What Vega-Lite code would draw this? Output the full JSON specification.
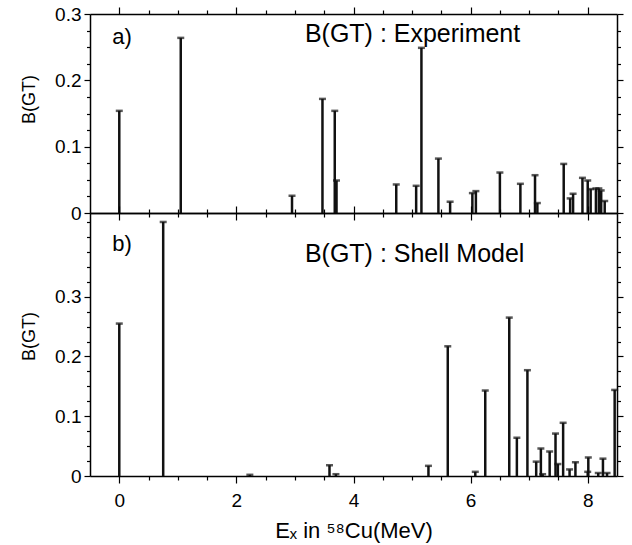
{
  "$schema": "https://vega.github.io/schema/vega-lite/v6.json",
  "padding": {"left": 20, "top": 5, "right": 5, "bottom": 5},
  "background": "white",
  "config": {
    "view": {"stroke": null},
    "axis": {
      "grid": false,
      "domainColor": "#000",
      "domainWidth": 1.5,
      "tickColor": "#000",
      "tickWidth": 1.2,
      "labelFont": "Liberation Sans",
      "labelFontSize": 19,
      "labelColor": "#000",
      "labelPadding": 3,
      "titleFont": "Liberation Sans",
      "titleFontWeight": "normal",
      "titleColor": "#000"
    }
  },
  "datasets": {
    "exp": [
      {"E": 0.00, "B": 0.154},
      {"E": 1.05, "B": 0.264},
      {"E": 2.95, "B": 0.026},
      {"E": 3.47, "B": 0.172},
      {"E": 3.68, "B": 0.154},
      {"E": 3.71, "B": 0.049},
      {"E": 4.73, "B": 0.043},
      {"E": 5.07, "B": 0.041},
      {"E": 5.16, "B": 0.249},
      {"E": 5.45, "B": 0.082},
      {"E": 5.65, "B": 0.017},
      {"E": 6.03, "B": 0.030},
      {"E": 6.09, "B": 0.033},
      {"E": 6.50, "B": 0.061},
      {"E": 6.85, "B": 0.044},
      {"E": 7.10, "B": 0.057},
      {"E": 7.14, "B": 0.015},
      {"E": 7.59, "B": 0.074},
      {"E": 7.70, "B": 0.022},
      {"E": 7.75, "B": 0.029},
      {"E": 7.91, "B": 0.053},
      {"E": 8.00, "B": 0.049},
      {"E": 8.05, "B": 0.036},
      {"E": 8.14, "B": 0.037},
      {"E": 8.19, "B": 0.037},
      {"E": 8.23, "B": 0.034},
      {"E": 8.29, "B": 0.018}
    ],
    "sm": [
      {"E": 0.00, "B": 0.255},
      {"E": 0.75, "B": 0.425},
      {"E": 2.23, "B": 0.002},
      {"E": 3.59, "B": 0.018},
      {"E": 3.70, "B": 0.003},
      {"E": 5.28, "B": 0.017},
      {"E": 5.61, "B": 0.217},
      {"E": 6.08, "B": 0.007},
      {"E": 6.25, "B": 0.143},
      {"E": 6.66, "B": 0.265},
      {"E": 6.79, "B": 0.064},
      {"E": 6.97, "B": 0.177},
      {"E": 7.12, "B": 0.024},
      {"E": 7.20, "B": 0.046},
      {"E": 7.23, "B": 0.003},
      {"E": 7.35, "B": 0.041},
      {"E": 7.45, "B": 0.071},
      {"E": 7.49, "B": 0.020},
      {"E": 7.58, "B": 0.089},
      {"E": 7.69, "B": 0.011},
      {"E": 7.79, "B": 0.023},
      {"E": 8.00, "B": 0.007},
      {"E": 8.01, "B": 0.031},
      {"E": 8.18, "B": 0.005},
      {"E": 8.26, "B": 0.029},
      {"E": 8.33, "B": 0.005},
      {"E": 8.46, "B": 0.144}
    ]
  },
  "spacing": 0,
  "bounds": "flush",
  "vconcat": [
    {
      "width": 527,
      "height": 199,
      "data": {"name": "exp"},
      "resolve": {"axis": {"x": "independent", "y": "independent"}},
      "layer": [
        {
          "mark": {"type": "rule", "color": "#111", "strokeWidth": 2.5},
          "encoding": {
            "x": {"field": "E", "type": "quantitative", "scale": {"domain": [-0.5, 8.5], "nice": false, "zero": false},
                  "axis": {"orient": "bottom", "values": [0, 2, 4, 6, 8], "labels": false, "tickSize": 7, "title": null}},
            "y": {"field": "B", "type": "quantitative", "scale": {"domain": [0, 0.3], "nice": false},
                  "axis": {"orient": "left", "values": [0, 0.1, 0.2, 0.3], "format": "~g", "tickSize": 6, "title": "B(GT)",
                           "titleFontSize": 18, "titlePadding": 16, "titleY": 85}},
            "y2": {"datum": 0}
          }
        },
        {
          "mark": {"type": "tick", "orient": "horizontal", "size": 7, "thickness": 2.5, "color": "#111"},
          "encoding": {
            "x": {"field": "E", "type": "quantitative", "scale": {"domain": [-0.5, 8.5], "nice": false, "zero": false},
                  "axis": {"orient": "bottom", "values": [0.5, 1, 1.5, 2.5, 3, 3.5, 4.5, 5, 5.5, 6.5, 7, 7.5], "labels": false, "domain": false, "tickSize": 4, "title": null}},
            "y": {"field": "B", "type": "quantitative", "scale": {"domain": [0, 0.3], "nice": false},
                  "axis": {"orient": "left", "values": [0.025, 0.05, 0.075, 0.125, 0.15, 0.175, 0.225, 0.25, 0.275], "labels": false, "domain": false, "tickSize": 3.5, "title": null}}
          }
        },
        {
          "mark": {"type": "point", "opacity": 0},
          "encoding": {
            "x": {"field": "E", "type": "quantitative", "scale": {"domain": [-0.5, 8.5], "nice": false, "zero": false},
                  "axis": {"orient": "top", "values": [0, 2, 4, 6, 8], "labels": false, "tickSize": 7, "title": null}},
            "y": {"field": "B", "type": "quantitative", "scale": {"domain": [0, 0.3], "nice": false},
                  "axis": {"orient": "right", "values": [0, 0.1, 0.2, 0.3], "labels": false, "tickSize": 6, "title": null}}
          }
        },
        {
          "mark": {"type": "point", "opacity": 0},
          "encoding": {
            "x": {"field": "E", "type": "quantitative", "scale": {"domain": [-0.5, 8.5], "nice": false, "zero": false},
                  "axis": {"orient": "top", "values": [0.5, 1, 1.5, 2.5, 3, 3.5, 4.5, 5, 5.5, 6.5, 7, 7.5], "labels": false, "domain": false, "tickSize": 4, "title": null}},
            "y": {"field": "B", "type": "quantitative", "scale": {"domain": [0, 0.3], "nice": false},
                  "axis": {"orient": "right", "values": [0.025, 0.05, 0.075, 0.125, 0.15, 0.175, 0.225, 0.25, 0.275], "labels": false, "domain": false, "tickSize": 3.5, "title": null}}
          }
        },
        {
          "data": {"values": [{"label": "a)"}]},
          "mark": {"type": "text", "align": "left", "baseline": "alphabetic", "font": "Liberation Sans", "fontSize": 22, "color": "#000"},
          "encoding": {
            "x": {"datum": -0.12, "type": "quantitative", "scale": {"domain": [-0.5, 8.5], "nice": false, "zero": false}, "axis": null},
            "y": {"datum": 0.255, "type": "quantitative", "scale": {"domain": [0, 0.3], "nice": false}, "axis": null},
            "text": {"field": "label"}
          }
        },
        {
          "data": {"values": [{"label": "B(GT) : Experiment"}]},
          "mark": {"type": "text", "align": "left", "baseline": "alphabetic", "font": "Liberation Sans", "fontSize": 25, "color": "#000"},
          "encoding": {
            "x": {"datum": 3.17, "type": "quantitative", "scale": {"domain": [-0.5, 8.5], "nice": false, "zero": false}, "axis": null},
            "y": {"datum": 0.258, "type": "quantitative", "scale": {"domain": [0, 0.3], "nice": false}, "axis": null},
            "text": {"field": "label"}
          }
        }
      ]
    },
    {
      "width": 527,
      "height": 263,
      "data": {"name": "sm"},
      "resolve": {"axis": {"x": "independent", "y": "independent"}},
      "layer": [
        {
          "mark": {"type": "rule", "color": "#111", "strokeWidth": 2.5},
          "encoding": {
            "x": {"field": "E", "type": "quantitative", "scale": {"domain": [-0.5, 8.5], "nice": false, "zero": false},
                  "axis": {"orient": "bottom", "values": [0, 2, 4, 6, 8], "format": "~g", "tickSize": 7, "labelPadding": 8,
                           "title": "Eₓ in ⁵⁸Cu(MeV)", "titleFontSize": 22, "titlePadding": 10}},
            "y": {"field": "B", "type": "quantitative", "scale": {"domain": [0, 0.44], "nice": false},
                  "axis": {"orient": "left", "values": [0, 0.1, 0.2, 0.3], "format": "~g", "tickSize": 6, "title": "B(GT)",
                           "titleFontSize": 18, "titlePadding": 16, "titleY": 123}},
            "y2": {"datum": 0}
          }
        },
        {
          "mark": {"type": "tick", "orient": "horizontal", "size": 7, "thickness": 2.5, "color": "#111"},
          "encoding": {
            "x": {"field": "E", "type": "quantitative", "scale": {"domain": [-0.5, 8.5], "nice": false, "zero": false},
                  "axis": {"orient": "bottom", "values": [0.5, 1, 1.5, 2.5, 3, 3.5, 4.5, 5, 5.5, 6.5, 7, 7.5], "labels": false, "domain": false, "tickSize": 4, "title": null}},
            "y": {"field": "B", "type": "quantitative", "scale": {"domain": [0, 0.44], "nice": false},
                  "axis": {"orient": "left", "values": [0.025, 0.05, 0.075, 0.125, 0.15, 0.175, 0.225, 0.25, 0.275, 0.325, 0.35, 0.375, 0.4, 0.425], "labels": false, "domain": false, "tickSize": 3.5, "title": null}}
          }
        },
        {
          "mark": {"type": "point", "opacity": 0},
          "encoding": {
            "x": {"field": "E", "type": "quantitative", "scale": {"domain": [-0.5, 8.5], "nice": false, "zero": false},
                  "axis": {"orient": "top", "values": [0, 2, 4, 6, 8], "labels": false, "tickSize": 7, "title": null}},
            "y": {"field": "B", "type": "quantitative", "scale": {"domain": [0, 0.44], "nice": false},
                  "axis": {"orient": "right", "values": [0, 0.1, 0.2, 0.3], "labels": false, "tickSize": 6, "title": null}}
          }
        },
        {
          "mark": {"type": "point", "opacity": 0},
          "encoding": {
            "x": {"field": "E", "type": "quantitative", "scale": {"domain": [-0.5, 8.5], "nice": false, "zero": false},
                  "axis": {"orient": "top", "values": [0.5, 1, 1.5, 2.5, 3, 3.5, 4.5, 5, 5.5, 6.5, 7, 7.5], "labels": false, "domain": false, "tickSize": 4, "title": null}},
            "y": {"field": "B", "type": "quantitative", "scale": {"domain": [0, 0.44], "nice": false},
                  "axis": {"orient": "right", "values": [0.025, 0.05, 0.075, 0.125, 0.15, 0.175, 0.225, 0.25, 0.275, 0.325, 0.35, 0.375, 0.4, 0.425], "labels": false, "domain": false, "tickSize": 3.5, "title": null}}
          }
        },
        {
          "data": {"values": [{"label": "b)"}]},
          "mark": {"type": "text", "align": "left", "baseline": "alphabetic", "font": "Liberation Sans", "fontSize": 22, "color": "#000"},
          "encoding": {
            "x": {"datum": -0.12, "type": "quantitative", "scale": {"domain": [-0.5, 8.5], "nice": false, "zero": false}, "axis": null},
            "y": {"datum": 0.376, "type": "quantitative", "scale": {"domain": [0, 0.44], "nice": false}, "axis": null},
            "text": {"field": "label"}
          }
        },
        {
          "data": {"values": [{"label": "B(GT) : Shell Model"}]},
          "mark": {"type": "text", "align": "left", "baseline": "alphabetic", "font": "Liberation Sans", "fontSize": 25, "color": "#000"},
          "encoding": {
            "x": {"datum": 3.17, "type": "quantitative", "scale": {"domain": [-0.5, 8.5], "nice": false, "zero": false}, "axis": null},
            "y": {"datum": 0.358, "type": "quantitative", "scale": {"domain": [0, 0.44], "nice": false}, "axis": null},
            "text": {"field": "label"}
          }
        }
      ]
    }
  ]
}
